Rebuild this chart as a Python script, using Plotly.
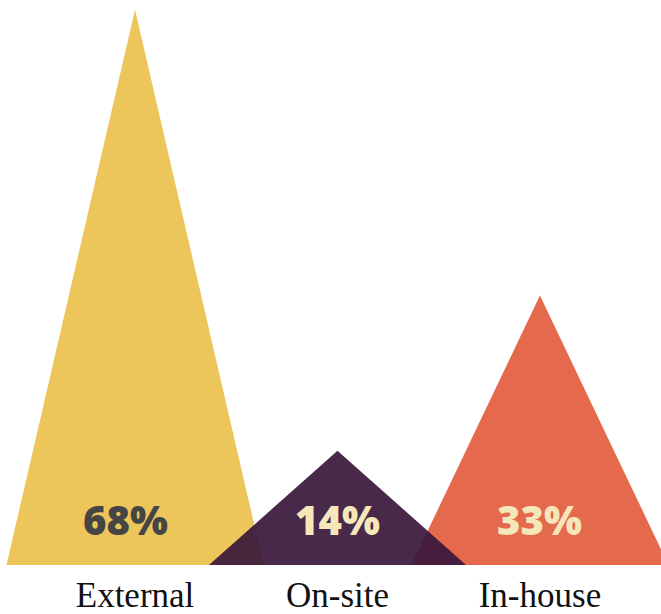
import plotly.graph_objects as go

# Share of respondents by location type
categories = ["External", "On-site", "In-house"]
values = [68, 14, 33]
colors = ["#ECC55B", "#38173B", "#E56A4D"]
label_colors = ["#454545", "#F6E7BA", "#F6E7BA"]
opacities = [1.0, 0.92, 1.0]
label_shift = [-10, 0, 0]

half_width = 0.635
draw_order = [0, 2, 1]  # the dark triangle sits on top of its neighbours

fig = go.Figure()
for i in draw_order:
    fig.add_trace(go.Scatter(
        x=[i - half_width, i, i + half_width, i - half_width],
        y=[0, values[i], 0, 0],
        mode="lines",
        fill="toself",
        fillcolor=colors[i],
        line=dict(width=0, color=colors[i]),
        opacity=opacities[i],
        hoverinfo="skip",
        showlegend=False,
    ))

for i, v in enumerate(values):
    fig.add_annotation(
        x=i, y=5.6, xref="x", yref="y",
        xshift=label_shift[i],
        text=f"{v}%",
        showarrow=False,
        font=dict(family="Open Sans", size=40, color=label_colors[i], weight=800),
        xanchor="center", yanchor="middle",
    )

fig.update_layout(
    width=661, height=614,
    margin=dict(l=0, r=0, t=0, b=49, autoexpand=False),
    paper_bgcolor="white", plot_bgcolor="white",
    xaxis=dict(
        range=[-0.667, 2.598],
        tickvals=[0, 1, 2],
        ticktext=categories,
        showgrid=False, zeroline=False, showline=False,
        ticks="", fixedrange=True, automargin=False,
        ticklabelstandoff=6,
        tickfont=dict(family="Liberation Serif", size=35, color="#111111"),
    ),
    yaxis=dict(
        range=[0, 69.2],
        showgrid=False, zeroline=False, showline=False,
        showticklabels=False, fixedrange=True, automargin=False,
    ),
)

fig.write_html("out.html")
